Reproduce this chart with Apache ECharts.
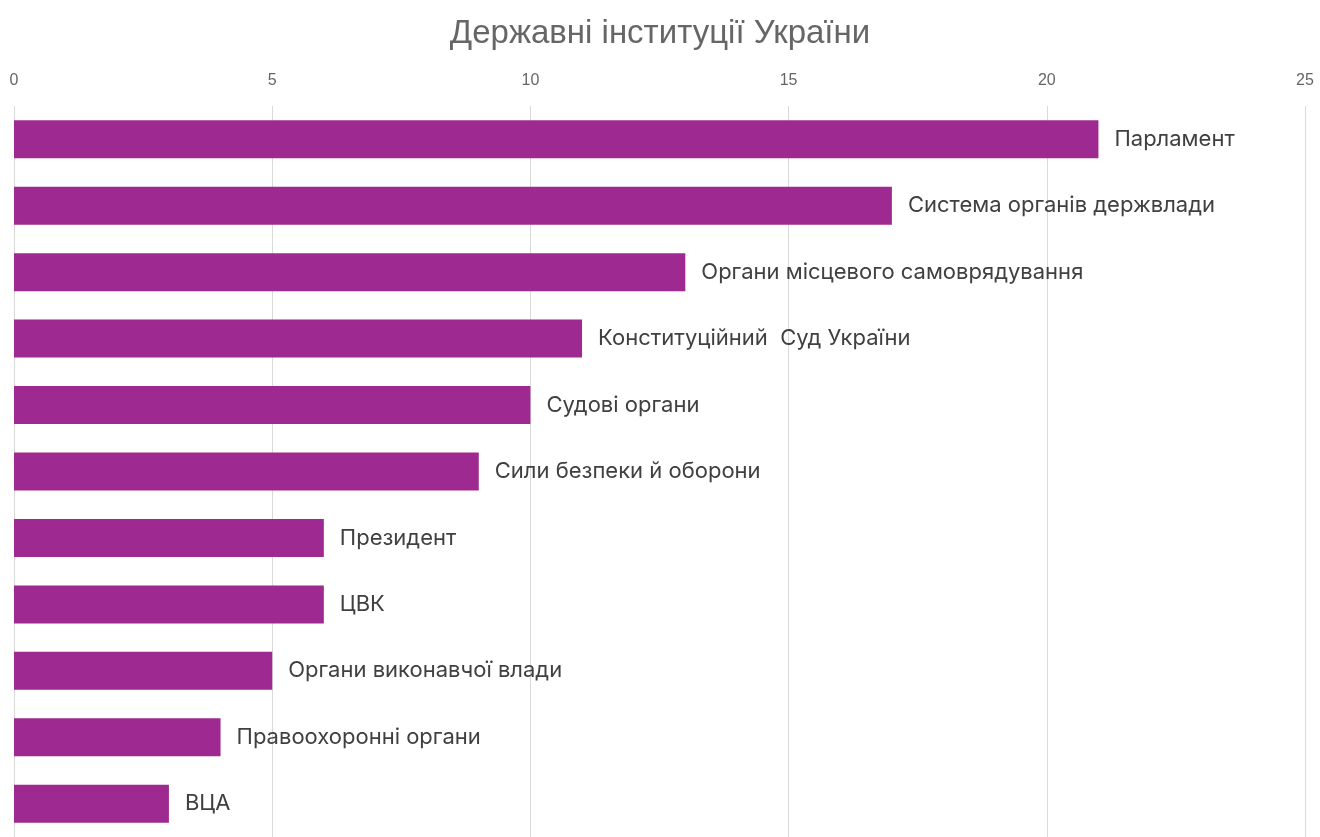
<!DOCTYPE html>
<html><head><meta charset="utf-8">
<script src="https://cdn.jsdelivr.net/npm/echarts@6/dist/echarts.min.js"></script>
<style>html,body{margin:0;padding:0;background:#fff}#c{width:1320px;height:837px}</style>
</head><body><div id="c"></div>
<script>
const categories = ["Парламент","Система органів держвлади","Органи місцевого самоврядування","Конституційний  Суд України","Судові органи","Сили безпеки й оборони","Президент","ЦВК","Органи виконавчої влади","Правоохоронні органи","ВЦА"];
const values = [21,17,13,11,10,9,6,6,5,4,3];
const titleText = "Державні інституції України";

const chart = echarts.init(document.getElementById('c'));
chart.setOption({
  backgroundColor:'#fff',
  animation:false,
  title:{text:titleText,left:'center',top:12,textStyle:{fontFamily:'Liberation Sans, Arial',fontSize:33,fontWeight:'normal',color:'#666666'}},
  grid:{left:14,right:15,top:106,height:737},
  xAxis:{type:'value',position:'top',min:0,max:25,interval:5,
    axisLine:{show:false},axisTick:{show:false},
    axisLabel:{margin:17,fontFamily:'Liberation Sans, Arial',fontSize:16,color:'#666666'},
    splitLine:{lineStyle:{color:'#d9d9d9',width:1}}},
  yAxis:{type:'category',data:categories,inverse:true,show:false},
  series:[{type:'bar',data:values,barWidth:38,itemStyle:{color:'#9E2A91'},
    label:{show:true,position:'right',distance:16,formatter:'{b}',fontFamily:'Inter, sans-serif',fontSize:22,color:'#404040'}}]
});
</script></body></html>
